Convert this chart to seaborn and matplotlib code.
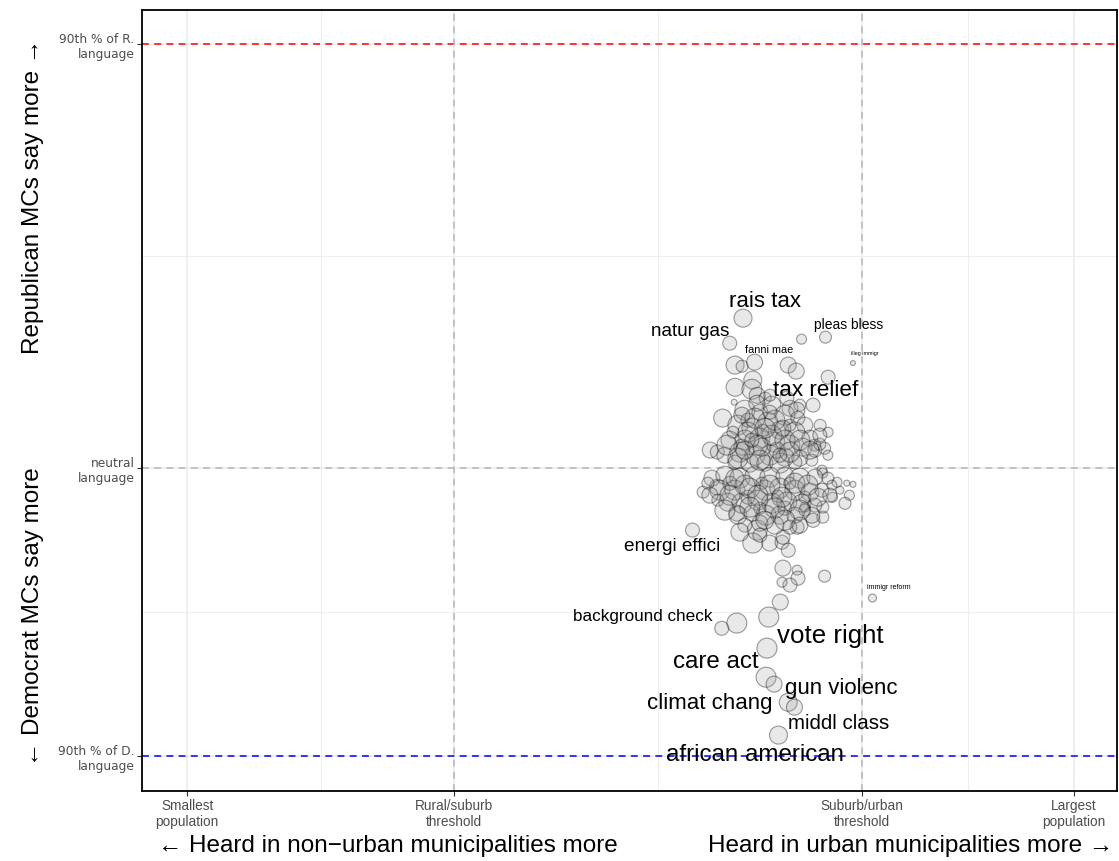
import matplotlib
matplotlib.use("Agg")
import matplotlib.pyplot as plt
import seaborn as sns
import pandas as pd

# x: place on the population scale (0 = smallest, 100 = largest municipality)
# y: partisan score (0 = neutral, -100 = 90th pct of D. language, 147.2 = 90th pct of R.)
x_breaks = [0, 30.1, 76.1, 100]
x_break_labels = ["Smallest\npopulation", "Rural/suburb\nthreshold",
                  "Suburb/urban\nthreshold", "Largest\npopulation"]
y_breaks = [-100, 0, 147.2]
y_break_labels = ["90th % of D.\nlanguage", "neutral\nlanguage", "90th % of R.\nlanguage"]

rural_cut = 30.1
urban_cut = 76.1
r_line = 147.2
d_line = -100

# every term (bigrams, stemmed)
term_x = [
    62.7, 61.2, 69.3, 72.0, 75.1, 61.8, 62.6, 64.0, 67.8, 68.7, 72.3, 61.8, 63.8, 63.7,
    64.3, 65.2, 61.7, 70.6, 60.4, 68.0, 71.4, 72.3, 59.0, 59.8, 58.2, 59.8, 74.4, 75.1,
    74.7, 74.2, 72.8, 62.0, 64.3, 63.8, 65.7, 67.1, 67.8, 67.2, 70.6, 71.7, 57.0, 67.2,
    68.8, 68.9, 68.0, 67.1, 71.9, 66.9, 65.6, 62.0, 60.3, 65.4, 65.3, 66.2, 67.8, 68.5,
    66.7, 77.3,
    71.9, 70.8, 71.6, 71.7, 73.3, 71.7, 69.7, 68.8,
    62.91, 64.60, 65.95, 67.42, 68.88, 69.67, 62.12, 63.70, 65.50, 66.85, 68.55, 70.24,
    61.22, 62.91, 64.60, 66.29, 67.98, 69.45, 70.80, 60.65, 62.34, 64.04, 65.73, 67.42,
    69.11, 70.46, 61.78, 63.47, 65.16, 66.85, 68.55, 63.25, 64.94, 67.98, 66.52, 64.83,
    62.57, 71.36, 72.27, 61.56, 64.26, 65.73, 67.64, 69.11,
    59.19, 60.65, 62.34, 64.04, 65.73, 67.42, 69.11, 70.80, 72.27, 60.09, 61.78, 63.47,
    65.16, 66.85, 68.55, 70.24, 71.59, 60.99, 62.57, 64.37, 65.95, 67.64, 69.34, 70.80,
    62.12, 63.70, 65.28, 66.85, 68.55, 62.91, 64.60, 66.29, 67.98, 69.67, 72.72, 73.62,
    58.74, 61.22, 64.83, 67.98, 63.25, 66.63, 69.67, 59.86, 64.60, 67.42,
    63.25, 65.95, 67.42, 64.37, 62.12, 64.60, 67.98, 66.29, 64.04, 69.11, 65.16, 62.91,
    67.19, 70.24, 60.88, 71.36, 62.57, 68.77, 65.73, 63.70, 66.85,
    62.91, 65.73, 68.55, 61.22, 64.37, 67.08, 70.02, 63.47, 66.29, 69.11, 60.65, 71.14,
    61.78, 67.42, 65.16, 62.34, 70.46, 64.60, 58.96, 72.49, 69.11,
]
term_y = [
    52.1, 43.4, 44.8, 45.5, 36.5, 35.8, 35.4, 36.8, 35.8, 33.7, 31.6, 28.1, 30.6, 27.4,
    25.3, 24.3, 22.9, 21.9, 17.4, 20.8, 14.9, 12.5, 6.3, 5.6, -8.3, -6.6, -5.2, -5.6,
    -9.4, -12.2, -10.1, -15.6, -21.5, -26.0, -26.0, -25.7, -28.5, -24.0, -18.1, -17.0, -21.5, -34.7,
    -35.4, -38.2, -40.6, -39.6, -37.5, -46.5, -51.7, -53.8, -55.6, -62.5, -72.6, -75.0, -81.3, -83.0,
    -92.7, -45.1,
    6.9, 8.0, -0.7, -1.7, -4.9, -13.5, -13.5, -20.5,
    20.14, 19.44, 21.88, 18.40, 17.36, 14.93, 14.93, 13.89, 15.97, 13.19, 12.50, 10.42,
    9.72, 9.72, 10.42, 9.03, 7.99, 7.29, 6.25, 4.51, 5.56, 4.51, 4.51, 3.82,
    3.47, 2.78, 2.08, 1.74, 1.74, 1.74, 2.08, 16.67, 13.19, 14.93, 6.25, 7.29,
    7.29, 8.33, 4.51, 12.50, 22.57, 25.35, 24.31, 21.88,
    -3.47, -2.43, -3.47, -2.78, -3.13, -2.78, -3.47, -3.13, -3.47, -7.64, -7.64, -6.94,
    -7.64, -6.94, -7.64, -8.33, -7.64, -11.81, -12.15, -11.11, -12.15, -11.81, -12.15, -12.85,
    -16.32, -15.63, -16.32, -16.32, -16.32, -19.79, -19.10, -19.79, -20.49, -14.58, -5.90, -7.64,
    -5.21, -5.21, -5.21, -5.21, -10.07, -9.72, -10.07, -11.11, -13.89, -13.89,
    12.50, 11.46, 9.72, 7.99, 3.47, 2.78, 5.56, 16.67, 17.36, 9.72, 13.89, 6.25,
    13.89, 6.25, 7.99, 11.46, 18.40, 20.14, 19.44, 9.72, 4.51,
    -5.90, -5.90, -5.21, -9.38, -9.38, -10.07, -5.90, -13.54, -13.89, -14.58, -14.58, -10.07,
    -3.47, -18.06, -18.06, -22.22, -16.32, -23.26, -9.38, -9.38, -19.79,
]
term_freq = [
    810, 490, 250, 360, 60, 810, 360, 640, 640, 640, 490, 810, 810, 1000,
    640, 360, 90, 490, 810, 640, 360, 250, 640, 490, 360, 640, 90, 90,
    250, 360, 250, 640, 1000, 1210, 640, 490, 490, 490, 490, 360, 490, 640,
    250, 490, 490, 250, 360, 640, 1000, 1000, 490, 1000, 1000, 640, 810, 640,
    810, 160,
    360, 360, 250, 250, 250, 360, 250, 490,
    1000, 640, 810, 1210, 490, 640, 1210, 1440, 1000, 810, 1440, 640,
    810, 1000, 1440, 1210, 1000, 810, 490, 640, 1210, 1000, 1440, 810,
    640, 360, 490, 810, 640, 1000, 490, 490, 360, 360, 640, 810,
    640, 360, 250, 360, 640, 360, 490, 360,
    640, 810, 1000, 1210, 1000, 810, 1000, 640, 360, 1000, 1440, 1210,
    1440, 1000, 1210, 810, 490, 810, 1000, 1210, 1440, 1000, 810, 490,
    810, 640, 1000, 810, 640, 490, 640, 810, 490, 360, 250, 160,
    360, 490, 360, 360, 490, 360, 360, 360, 360, 490,
    1690, 1690, 1440, 1690, 1440, 1210, 1440, 1210, 1000, 1000, 1210, 810,
    640, 810, 1000, 490, 640, 640, 490, 490, 490,
    1960, 1690, 1440, 1440, 1960, 1690, 1210, 1440, 1440, 1000, 1000, 810,
    810, 1000, 810, 810, 640, 490, 640, 490, 640,
]

# labelled terms
label_text = ["rais tax", "natur gas", "pleas bless", "fanni mae", "illeg immigr",
              "tax relief", "energi effici", "immigr reform", "background check",
              "vote right", "care act", "gun violenc", "climat chang", "middl class",
              "african american"]
label_x = [65.2, 56.7, 74.6, 65.6, 76.4, 70.9, 54.7, 79.1, 51.4, 72.5, 59.6, 73.8,
           59.0, 73.5, 64.1]
label_y = [58.0, 47.6, 49.7, 41.0, 39.9, 27.1, -27.1, -41.3, -51.4, -58.3, -67.4,
           -76.4, -81.6, -88.5, -99.7]
label_pt = [16, 13.6, 10, 7.8, 3.9, 16.2, 13.7, 5, 12.3, 18.6, 17.4, 16, 16, 14.8, 17.4]

terms = pd.DataFrame({"x": term_x, "y": term_y, "freq": term_freq})

sns.set_theme(style="white")
plt.rcParams["font.family"] = ["Liberation Sans", "DejaVu Sans"]

fig = plt.figure(figsize=(11.19, 8.61), dpi=100)
ax = fig.add_axes([0.127, 0.081, 0.871, 0.907])

sns.scatterplot(data=terms, x="x", y="y", size="freq", sizes=(0, 207),
                size_norm=(0, 1000), legend=False, ax=ax, zorder=3)
pts = ax.collections[-1]
pts.set_facecolor((0.6, 0.6, 0.6, 0.22))
pts.set_edgecolor((0.0, 0.0, 0.0, 0.38))
pts.set_linewidth(0.8)

dash = (0, (4.5, 3.5))
ax.axhline(r_line, color="#ff0000", ls=dash, lw=1.1, zorder=2)
ax.axhline(d_line, color="#0000ff", ls=dash, lw=1.1, zorder=2)
ax.axhline(0, color="#b5b5b5", ls=dash, lw=1.1, zorder=2)
ax.axvline(rural_cut, color="#b5b5b5", ls=dash, lw=1.1, zorder=2)
ax.axvline(urban_cut, color="#b5b5b5", ls=dash, lw=1.1, zorder=2)

for t, lx, ly, fs in zip(label_text, label_x, label_y, label_pt):
    ax.text(lx, ly, t, fontsize=fs, ha="center", va="center", color="black", zorder=4)

ax.set_xlim(-5.07, 104.85)
ax.set_ylim(-112.2, 159.0)
ax.set_xticks(x_breaks)
ax.set_xticklabels(x_break_labels)
ax.set_yticks(y_breaks)
ax.set_yticklabels(y_break_labels)
x_minor = [(a + b) / 2 for a, b in zip(x_breaks[:-1], x_breaks[1:])]
y_minor = [(a + b) / 2 for a, b in zip(y_breaks[:-1], y_breaks[1:])]
ax.set_xticks(x_minor, minor=True)
ax.set_yticks(y_minor, minor=True)
ax.grid(which="major", color="#ebebeb", lw=1.1, zorder=0)
ax.grid(which="minor", color="#ebebeb", lw=0.6, zorder=0)
ax.set_axisbelow(True)
ax.tick_params(which="minor", length=0)
ax.tick_params(which="major", length=3.5, width=0.8, color="#333333",
               labelcolor="#4d4d4d", pad=2, bottom=True, left=True)
for lab in ax.get_xticklabels():
    lab.set_fontsize(9.8)
for lab in ax.get_yticklabels():
    lab.set_family("DejaVu Sans")
    lab.set_fontsize(8.8)
for s in ax.spines.values():
    s.set_color("black")
    s.set_linewidth(1.3)
ax.set_xlabel("")
ax.set_ylabel("")

title_font = dict(fontsize=17.5, color="black")
fig.text(0.1412, 0.0174, "\u2190 Heard in non\u2212urban municipalities more",
         ha="left", va="center", **title_font)
fig.text(0.9946, 0.0174, "Heard in urban municipalities more \u2192",
         ha="right", va="center", **title_font)
fig.text(0.0295, 1 - 196 / 861, "Republican MCs say more \u2192", rotation=90,
         ha="center", va="center", **title_font)
fig.text(0.0295, 1 - 617 / 861, "\u2190 Democrat MCs say more", rotation=90,
         ha="center", va="center", **title_font)

fig.savefig("out.png", dpi=100)
